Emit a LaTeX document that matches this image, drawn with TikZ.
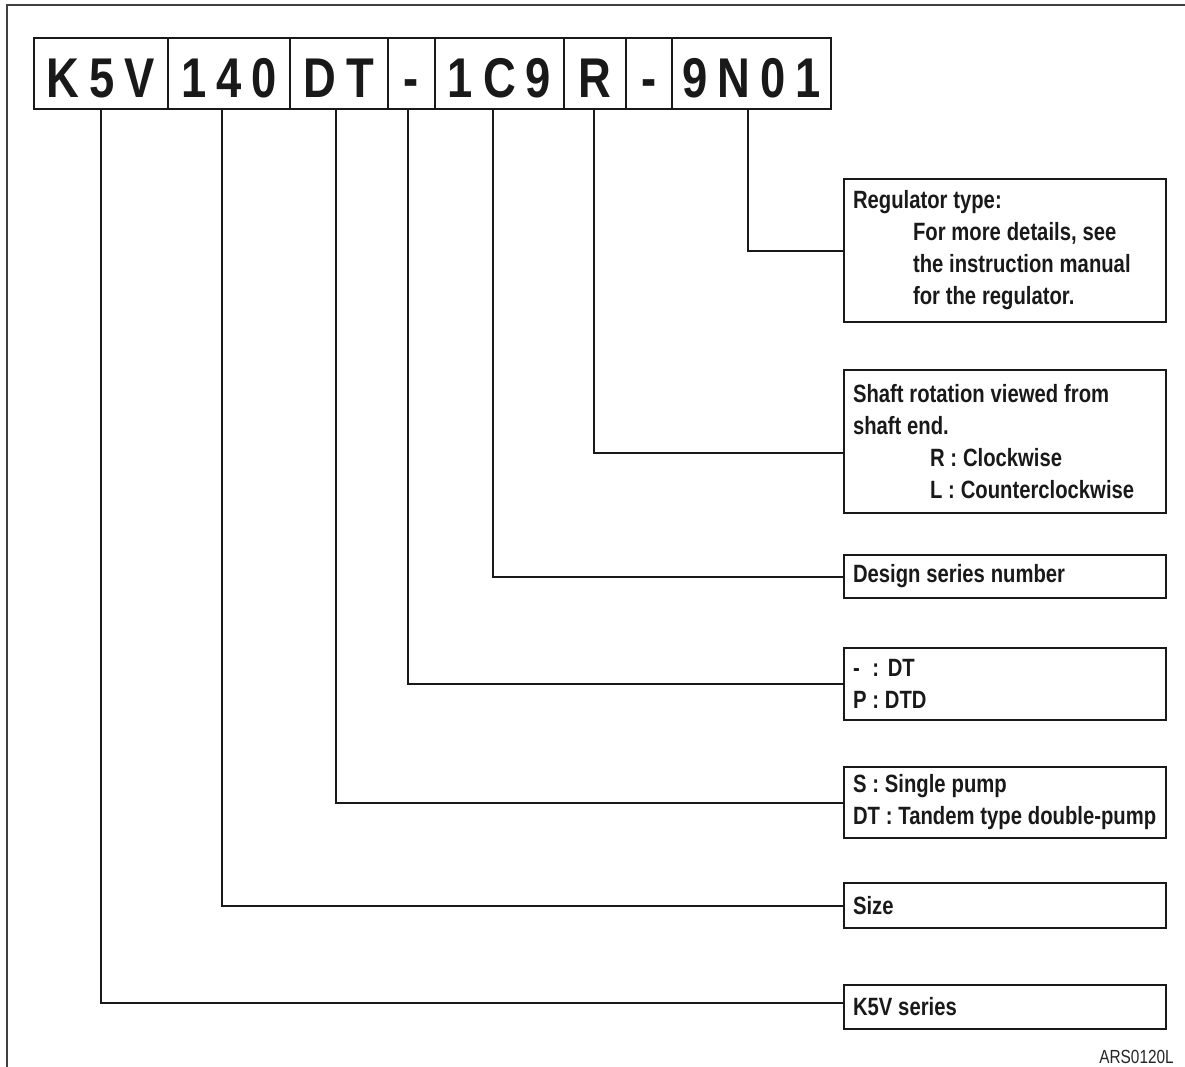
\documentclass[tikz,border=0pt]{standalone}
\usepackage{fontspec}
\setmainfont{Liberation Sans}[FakeStretch=0.81]
\newlength\cgap \setlength\cgap{7.5pt}
\newcommand\cg{\hspace{\cgap}}
\newcommand\tightspaces{\spaceskip=4.4pt plus 1pt minus 0.5pt\relax}
\begin{document}
\begin{tikzpicture}[x=0.75pt,y=-0.75pt,
 frame/.style={line width=1.5pt,draw=black!75},
 codebox/.style={draw=black!90,line width=1.5pt,minimum height=53.25pt,inner sep=0pt,anchor=west,
   font=\fontsize{42pt}{42pt}\selectfont\bfseries,text height=35.3pt,text depth=0pt,text=black!90},
 labelbox/.style={draw=black!90,line width=1.5pt,anchor=west,align=left,text width=228pt,
   inner xsep=6.75pt,inner ysep=0pt,
   font=\fontsize{18.75pt}{24pt}\selectfont\bfseries,
   execute at begin node=\tightspaces,
   text=black!90},
 conn/.style={draw=black!90,line width=1.5pt}]
\useasboundingbox (0,0) rectangle (1185,1067);
\draw[frame] (1185,5) -- (7,5) -- (7,1067);

% code boxes
\node[codebox,minimum width=100.5pt] (k5v) at (33,73.5) {K\cg5\cg V};
\node[codebox,minimum width=91.5pt] (c140) at (167,73.5) {1\cg4\cg0};
\node[codebox,minimum width=73.5pt] (cdt) at (289,73.5) {D\cg T};
\node[codebox,minimum width=35.25pt] (cdash) at (387,73.5) {-};
\node[codebox,minimum width=96.75pt] (c1c9) at (434,73.5) {1\cg C\cg9};
\node[codebox,minimum width=46.5pt] (cr) at (563,73.5) {R};
\node[codebox,minimum width=34.5pt] (cdashb) at (625,73.5) {-};
\node[codebox,minimum width=119.25pt] (c9n01) at (671,73.5) {9\cg N\cg0\cg1};

% label boxes
\node[labelbox,minimum height=107.25pt] (reg) at (843,250.5)
  {Regulator type:\\\hspace*{45pt}For more details, see\\\hspace*{45pt}the instruction manual\\\hspace*{45pt}for the regulator.};
\node[labelbox,minimum height=107.25pt] (shaft) at (843,441.5)
  {Shaft rotation viewed from\\shaft end.\\\hspace*{57.75pt}R : Clockwise\\\hspace*{57.75pt}L : Counterclockwise};
\node[labelbox,minimum height=32.25pt] (design) at (843,576.5) {Design series number};
\node[labelbox,minimum height=54pt] (dtsel) at (843,684)
  {\makebox[\fontcharwd\font`\P][l]{-} :\hspace{6.5pt}DT\\P : DTD};
\node[labelbox,minimum height=53.25pt] (pump) at (843,802.5) {S : Single pump\\\mbox{DT : Tandem type double-pump}};
\node[labelbox,minimum height=33.75pt] (size) at (843,905.5) {Size};
\node[labelbox,minimum height=33pt] (series) at (843,1007) {K5V series};

% connectors
\draw[conn] ([xshift=-2.6pt]c9n01.south) |- (reg.west);
\draw[conn] ([xshift=-0.75pt]cr.south) |- ([yshift=-8.6pt]shaft.west);
\draw[conn] ([xshift=-4.9pt]c1c9.south) |- (design.west);
\draw[conn] ([xshift=-2.6pt]cdash.south) |- (dtsel.west);
\draw[conn] ([xshift=-2.25pt]cdt.south) |- (pump.west);
\draw[conn] ([xshift=-5.25pt]c140.south) |- (size.west);
\draw[conn] (k5v.south) |- ([yshift=3pt]series.west);

\node[font=\fontsize{14.25pt}{16pt}\selectfont,anchor=east,inner sep=0pt,text=black!85] (code) at (1174,1057) {ARS0120L};
\end{tikzpicture}
\end{document}
